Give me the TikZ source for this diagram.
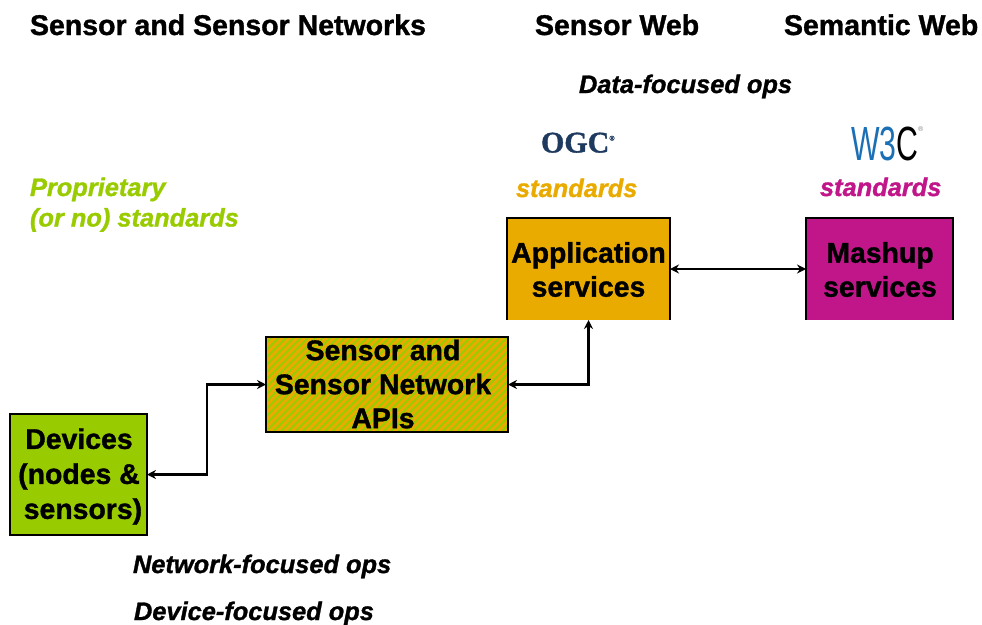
\documentclass[tikz,border=0pt]{standalone}
\usepackage{fontspec}
\setmainfont{Liberation Sans}[BoldFeatures={FakeBold=1.2},BoldItalicFeatures={FakeBold=1.2}]
\usetikzlibrary{arrows.meta,patterns.meta}
\definecolor{cgreen}{HTML}{99CC00}
\definecolor{corange}{HTML}{EAAB00}
\definecolor{cmag}{HTML}{C0168A}
\definecolor{cnavy}{HTML}{1F3A5F}
\definecolor{cblue}{HTML}{1A6FB5}
\tikzset{
  every node/.style={inner sep=0pt,outer sep=0pt},
  head/.style={font=\fontsize{28.5}{30}\selectfont\bfseries,anchor=base west},
  ops/.style={font=\fontsize{25.4}{28}\selectfont\bfseries\itshape,anchor=base west},
  std/.style={font=\fontsize{25.4}{30.5}\selectfont\bfseries\itshape,anchor=base west,align=left},
  boxtext/.style={font=\fontsize{28.4}{34}\selectfont\bfseries,align=center,text=black},
  boxsize/.style 2 args={rectangle,minimum width=#1pt,minimum height=#2pt},
  edgeline/.style={draw=black,line width=1.4pt},
  link/.style={draw=black,line width=2.1pt,{Stealth[length=9pt,width=9pt]}-{Stealth[length=9pt,width=9pt]}},
}
\begin{document}
\begin{tikzpicture}[x=1pt,y=-1pt]
\useasboundingbox (0,0) rectangle (982,624);
\node[head] (h1) at (30,35) {Sensor and Sensor Networks};
\node[head] (h2) at (535,35) {Sensor Web};
\node[head] (h3) at (784,35) {Semantic Web};
\node[ops] (o1) at (579,93) {Data-focused ops};
\node[ops] (o2) at (133,573) {Network-focused ops};
\node[ops] (o3) at (134,620) {Device-focused ops};
\node[anchor=base west,font=\fontsize{30}{32}\selectfont\bfseries,text=cnavy] (ogc) at (541,152.5)
  {\fontspec{Liberation Serif}[FakeBold=1.2]OGC\raisebox{12pt}{\fontsize{7}{8}\selectfont ®}};
\node[anchor=base west,font=\fontsize{48}{50}\selectfont] (w3c) at (851,160)
  {\scalebox{.63}[1]{\textcolor{cblue}{W3}\textcolor{black}{C}}\raisebox{29pt}{\fontsize{7}{8}\selectfont\textcolor{gray}{®}}};
\node[std,text=cgreen] (prop) at (30,226.5) {Proprietary\\(or no) standards};
\node[std,text=corange] (s1) at (516,197) {standards};
\node[std,text=cmag] (s2) at (820,196) {standards};
% boxes
\node[boxsize={163}{102},fill=corange] (app) at (588.5,269) {};
\node[boxtext] (apptext) at (588.5,269.5) {Application\\services};
\draw[edgeline] (app.south west) -- (app.north west) -- (app.north east) -- (app.south east);
\node[boxsize={147}{102},fill=cmag] (mash) at (879.5,269) {};
\node[boxtext] (mashtext) at (880,269.5) {Mashup\\services};
\draw[edgeline] (mash.south west) -- (mash.north west) -- (mash.north east) -- (mash.south east);
\node[boxsize={242}{95},fill=corange] (api) at (387,384.5) {};
\path[pattern={Lines[angle=45,distance=5.2pt,line width=2pt]},pattern color=cgreen] (api.north west) rectangle (api.south east);
\draw[edgeline] (api.north west) rectangle (api.south east);
\node[boxtext] (apitext) at (383,384) {Sensor and\\Sensor Network\\APIs};
\node[boxsize={137}{121},fill=cgreen,edgeline] (dev) at (78.5,474.5) {};
\node[boxtext,font=\fontsize{28.4}{35}\selectfont\bfseries] (devtext) at (79,476.5) {Devices\hspace{5pt}\\(nodes \&\\\ sensors)};
% connectors
\coordinate (m1) at (207,0);
\draw[link] (dev.east) -- (dev.east -| m1) -- (api.west -| m1) -- (api.west);
\draw[link] (api.east) -- (api.east -| app.south) -- (app.south);
\draw[link] (app.east) -- (mash.west);
\end{tikzpicture}
\end{document}
